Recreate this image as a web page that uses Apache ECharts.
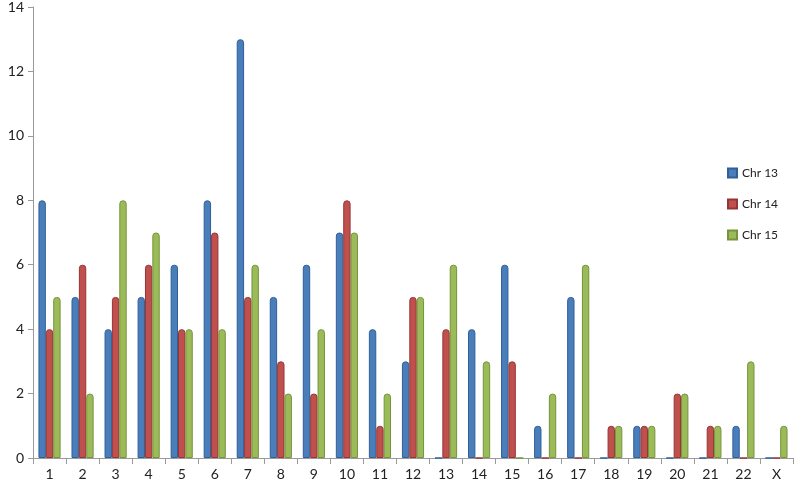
<!DOCTYPE html>
<html>
<head>
<meta charset="utf-8">
<script src="https://cdn.jsdelivr.net/npm/echarts@6/dist/echarts.min.js"></script>
<style>
  html, body { margin: 0; padding: 0; background: #fff; }
  #chart { width: 800px; height: 485px; }
</style>
</head>
<body>
<div id="chart"></div>
<script>
// 染色体类别
const categories = ['1', '2', '3', '4', '5', '6', '7', '8', '9', '10', '11', '12',
  '13', '14', '15', '16', '17', '18', '19', '20', '21', '22', 'X']

// 各系列数值
const chr13 = [8, 5, 4, 5, 6, 8, 13, 5, 6, 7, 4, 3, 0, 4, 6, 1, 5, 0, 1, 0, 0, 1, 0]
const chr14 = [4, 6, 5, 6, 4, 7, 5, 3, 2, 8, 1, 5, 4, 0, 3, 0, 0, 1, 1, 2, 1, 0, 0]
const chr15 = [5, 2, 8, 7, 4, 4, 6, 2, 4, 7, 2, 5, 6, 3, 0, 2, 6, 1, 1, 2, 1, 3, 1]

const chart = echarts.init(document.getElementById('chart'))

const font = 'Lato, "Open Sans", sans-serif'

const makeSeries = (name, data, color, edge) => ({
  name,
  type: 'bar',
  data,
  barGap: '0%',
  barCategoryGap: '33%',
  itemStyle: {
    color,
    borderColor: edge,
    borderWidth: 1,
    borderRadius: [3, 3, 0, 0]
  }
})

const option = {
  animation: false,
  textStyle: { fontFamily: font },
  grid: {
    left: 33,
    right: 7,
    top: 7,
    bottom: 27
  },
  legend: {
    orient: 'vertical',
    left: 722,
    top: 162,
    itemGap: 19,
    itemWidth: 9,
    itemHeight: 9,
    icon: 'rect',
    textStyle: { fontSize: 12, color: '#222', fontFamily: font },
    data: ['Chr 13', 'Chr 14', 'Chr 15']
  },
  xAxis: {
    type: 'category',
    data: categories,
    axisLine: { lineStyle: { color: '#9a9a9a', width: 1 } },
    axisTick: { show: true, alignWithLabel: false, length: 6, lineStyle: { color: '#9a9a9a' } },
    axisLabel: { fontSize: 14, color: '#222', margin: 9, interval: 0 }
  },
  yAxis: {
    type: 'value',
    min: 0,
    max: 14,
    interval: 2,
    splitLine: { show: false },
    axisLine: { show: true, lineStyle: { color: '#9a9a9a', width: 1 } },
    axisTick: { show: true, inside: false, length: 5, lineStyle: { color: '#9a9a9a' } },
    axisLabel: { fontSize: 14, color: '#222', margin: 9 }
  },
  series: [
    makeSeries('Chr 13', chr13, '#4A7EBB', '#2F5F98'),
    makeSeries('Chr 14', chr14, '#C0504D', '#943634'),
    makeSeries('Chr 15', chr15, '#9BBB59', '#77933C')
  ]
}

chart.setOption(option)
</script>
</body>
</html>
